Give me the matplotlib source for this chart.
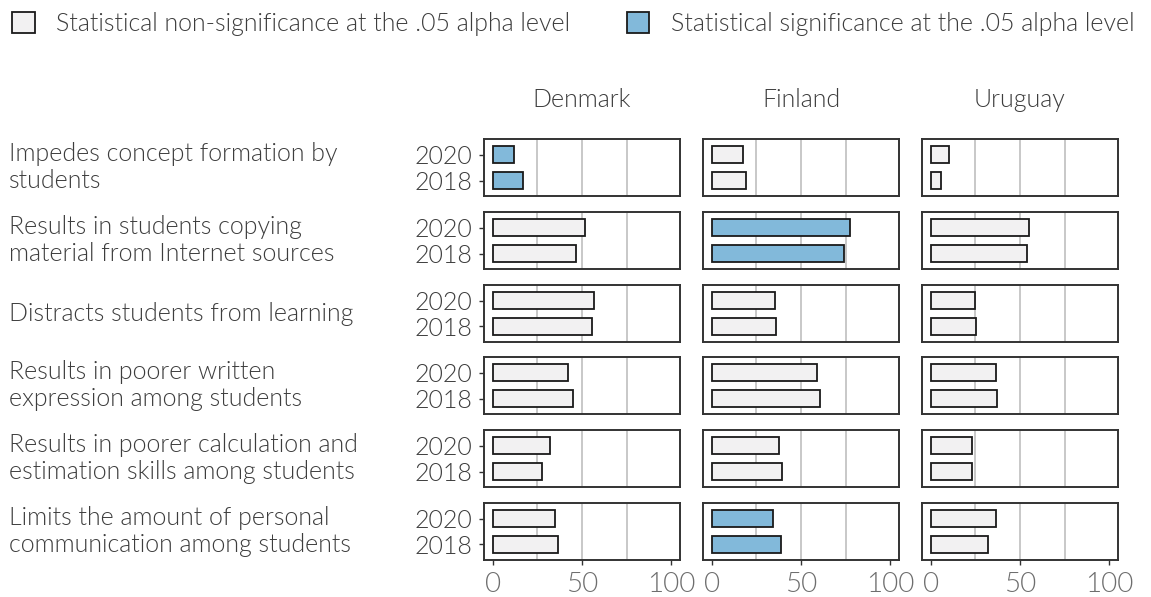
import numpy as np
import matplotlib
matplotlib.use("Agg")
import matplotlib.pyplot as plt
from matplotlib import font_manager as fm
from matplotlib.patches import Patch

light_path = [f.fname for f in fm.fontManager.ttflist if f.fname.endswith("Lato-Light.ttf")][0]


def lato(size):
    return fm.FontProperties(fname=light_path, size=size)


countries = ["Denmark", "Finland", "Uruguay"]
items = [
    "Impedes concept formation by\nstudents",
    "Results in students copying\nmaterial from Internet sources",
    "Distracts students from learning",
    "Results in poorer written\nexpression among students",
    "Results in poorer calculation and\nestimation skills among students",
    "Limits the amount of personal\ncommunication among students",
]
years = ["2018", "2020"]

# percentages per country: rows = items, cols = [2018, 2020]
denmark = [[16.9, 12.0], [46.6, 51.5], [55.8, 56.5], [44.9, 42.3], [27.4, 31.8], [36.6, 34.6]]
finland = [[19.2, 17.5], [74.0, 77.6], [36.1, 35.5], [60.9, 58.8], [39.5, 37.8], [38.5, 34.4]]
uruguay = [[5.6, 9.9], [54.2, 54.9], [25.5, 24.6], [37.0, 36.4], [23.1, 23.3], [32.1, 36.4]]

# significance flags (same shape)
sig_denmark = [[1, 1], [0, 0], [0, 0], [0, 0], [0, 0], [0, 0]]
sig_finland = [[0, 0], [1, 1], [0, 0], [0, 0], [0, 0], [1, 1]]
sig_uruguay = [[0, 0], [0, 0], [0, 0], [0, 0], [0, 0], [0, 0]]

values = [denmark, finland, uruguay]
sigs = [sig_denmark, sig_finland, sig_uruguay]

BLUE = "#82b9da"
GREY = "#f2f1f2"
EDGE = "#1a1a1a"
TXT = "#3d3d3d"
TICK = "#6e6e6e"
FS = 18

W, H = 1151, 597
fig = plt.figure(figsize=(W / 100, H / 100), dpi=100)

col_x = [(484, 680), (703, 899), (922, 1118)]
row_top = [139.3, 212.3, 285, 357.3, 430.3, 503]
row_h = 57

ypos = np.arange(len(years))
for r in range(len(items)):
    for c in range(len(countries)):
        x0, x1 = col_x[c]
        top = row_top[r]
        ax = fig.add_axes([x0 / W, (H - top - row_h) / H, (x1 - x0) / W, row_h / H])
        vals = values[c][r]
        cols = [BLUE if s else GREY for s in sigs[c][r]]
        ax.barh(ypos, vals, height=0.66, color=cols, edgecolor=EDGE, linewidth=1.3, zorder=3)
        ax.set_xlim(-5, 105)
        ax.set_ylim(-0.6, 1.6)
        for g in [25, 50, 75]:
            ax.axvline(g, color="#c4c4c4", lw=1.3, zorder=1)
        for s in ax.spines.values():
            s.set_color("#333333")
            s.set_linewidth(1.4)
        ax.set_xticks([0, 50, 100])
        ax.tick_params(axis="both", colors="#333333", length=3.6, width=1.0)
        if r == len(items) - 1:
            ax.set_xticklabels(["0", "50", "100"], fontproperties=lato(20), color=TICK)
            ax.tick_params(axis="x", pad=5)
        else:
            ax.tick_params(axis="x", length=0, labelbottom=False)
        if c == 0:
            ax.set_yticks(ypos)
            ax.set_yticklabels(years, fontproperties=lato(FS), color=TXT)
            ax.tick_params(axis="y", pad=5)
        else:
            ax.set_yticks([])
        if r == 0:
            ax.set_title(countries[c], fontproperties=lato(FS), color=TXT, pad=23)

for r, label in enumerate(items):
    yc = row_top[r] + row_h / 2
    fig.text(9 / W, 1 - yc / H, label, ha="left", va="center", fontproperties=lato(FS),
             color=TXT, linespacing=1.15)

handles = [Patch(facecolor=GREY, edgecolor=EDGE, linewidth=1.3),
           Patch(facecolor=BLUE, edgecolor=EDGE, linewidth=1.3)]
labels = ["Statistical non-significance at the .05 alpha level",
          "Statistical significance at the .05 alpha level"]
leg = fig.legend(handles, labels, ncol=2, loc="upper left", bbox_to_anchor=(12 / W, 1 - 12 / H),
                 frameon=False, prop=lato(FS), handlelength=0.9, handleheight=0.9,
                 handletextpad=0.88, columnspacing=2.25, borderaxespad=0, borderpad=0)
for t in leg.get_texts():
    t.set_color(TXT)

fig.savefig("out.png", dpi=100)
